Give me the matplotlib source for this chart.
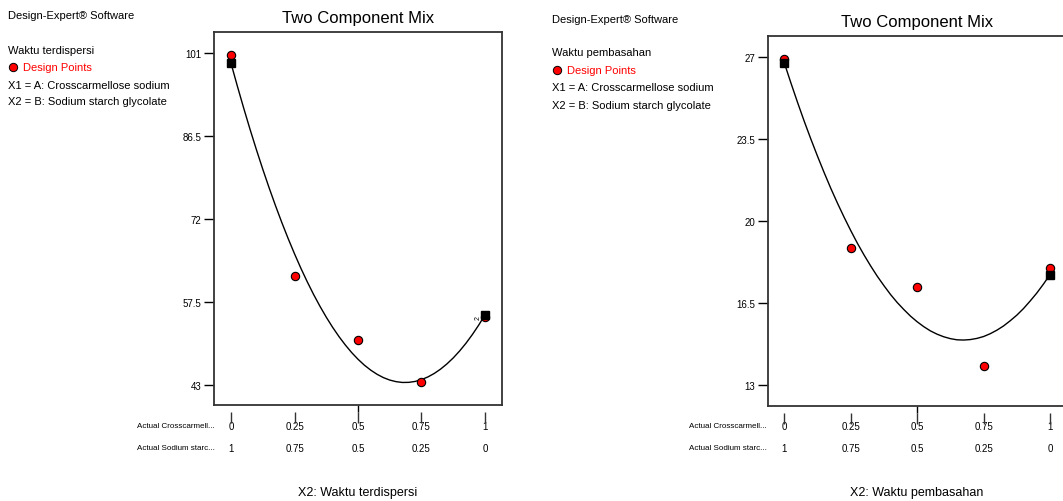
import matplotlib
matplotlib.use("Agg")
from matplotlib import pyplot as plt
from matplotlib.transforms import blended_transform_factory

plt.rcParams['font.family'] = ['Liberation Sans', 'DejaVu Sans']
NARROW = ['Liberation Sans Narrow', 'Liberation Sans', 'DejaVu Sans']

## data ##
x_ticks = [0, 0.25, 0.5, 0.75, 1]
row1_labels = ['0', '0.25', '0.5', '0.75', '1']
row2_labels = ['1', '0.75', '0.5', '0.25', '0']

design_x = [0, 0.25, 0.5, 0.75, 1]
disp_points = [100.6, 62.0, 50.8, 43.4, 54.9]
disp_pred_x = [0, 1]
disp_pred = [99.2, 55.2]
disp_yticks = [43, 57.5, 72, 86.5, 101]
disp_yticklabels = ['43', '57.5', '72', '86.5', '101']

wet_points = [26.9, 18.86, 17.18, 13.84, 18.02]
wet_pred_x = [0, 1]
wet_pred = [26.75, 17.72]
wet_yticks = [13, 16.5, 20, 23.5, 27]
wet_yticklabels = ['13', '16.5', '20', '23.5', '27']

# fitted curves, every 0.025
curve_x = [0, 0.025, 0.05, 0.075, 0.1, 0.125, 0.15, 0.175, 0.2, 0.225, 0.25, 0.275,
           0.3, 0.325, 0.35, 0.375, 0.4, 0.425, 0.45, 0.475, 0.5, 0.525, 0.55, 0.575,
           0.6, 0.625, 0.65, 0.675, 0.7, 0.725, 0.75, 0.775, 0.8, 0.825, 0.85, 0.875,
           0.9, 0.925, 0.95, 0.975, 1]
disp_curve = [99.2, 95.20, 91.35, 87.64, 84.09, 80.68, 77.43, 74.32, 71.36, 68.55, 65.89, 63.37,
              61.01, 58.79, 56.73, 54.81, 53.04, 51.42, 49.95, 48.62, 47.45, 46.42, 45.55, 44.82,
              44.24, 43.81, 43.53, 43.39, 43.41, 43.57, 43.89, 44.35, 44.96, 45.72, 46.63, 47.68,
              48.89, 50.24, 51.75, 53.40, 55.2]
wet_curve = [26.75, 25.89, 25.06, 24.26, 23.50, 22.77, 22.07, 21.40, 20.77, 20.17, 19.60, 19.06,
             18.56, 18.09, 17.65, 17.25, 16.87, 16.53, 16.23, 15.95, 15.71, 15.50, 15.32, 15.18,
             15.07, 14.99, 14.94, 14.93, 14.95, 15.00, 15.08, 15.20, 15.35, 15.53, 15.75, 15.99,
             16.27, 16.59, 16.93, 17.31, 17.72]

W, H = 1063, 502
fig = plt.figure(figsize=(W / 100, H / 100), dpi=100)


def fy(py):
    # pixel row from top -> figure fraction
    return 1 - py / H


def panel(rect, xlim, ylim, curve, points, pred_x, pred, yticks, yticklabels,
          response, text_x, text_rows, title_y, xlabel):
    ax = fig.add_axes(rect)
    ax.plot(curve_x, curve, color='black', lw=1.0, zorder=2)
    ax.plot(design_x, points, 'o', ms=6, mfc='red', mec='black', mew=0.8, zorder=3)
    ax.plot(pred_x, pred, 's', ms=6, color='black', zorder=4)
    ax.set_xlim(xlim)
    ax.set_ylim(ylim)
    for s in ax.spines.values():
        s.set_color('#333333')
        s.set_linewidth(1.3)
    ax.set_yticks(yticks)
    ax.set_yticklabels(yticklabels, family=NARROW, fontsize=7)
    ax.tick_params(axis='y', direction='out', length=7, width=1, pad=2)
    ax.xaxis.set_ticks_position('top')
    ax.set_xticks([0.5])
    ax.set_xticklabels([''])
    ax.tick_params(axis='x', direction='out', length=5, width=1)

    # lower tick axis, detached from the box
    ax2 = ax.twiny()
    ax2.set_xlim(xlim)
    ax2.xaxis.set_ticks_position('bottom')
    ax2.spines['bottom'].set_position(('outward', 5))
    for s in ax2.spines.values():
        s.set_visible(False)
    ax2.set_xticks(x_ticks)
    ax2.set_xticklabels([''] * len(x_ticks))
    ax2.tick_params(axis='x', direction='out', length=8, width=1, color='#333333')

    tr = blended_transform_factory(ax.transData, fig.transFigure)
    for x, a, b in zip(x_ticks, row1_labels, row2_labels):
        ax.text(x, fy(427), a, transform=tr, ha='center', va='center', fontsize=7, family=NARROW)
        ax.text(x, fy(449), b, transform=tr, ha='center', va='center', fontsize=7, family=NARROW)
    ax.text(-0.065, fy(427), 'Actual Crosscarmell...', transform=tr, ha='right', va='center',
            fontsize=5.8, family=NARROW)
    ax.text(-0.065, fy(449), 'Actual Sodium starc...', transform=tr, ha='right', va='center',
            fontsize=5.8, family=NARROW)

    ax.text(0.5, fy(title_y), 'Two Component Mix', transform=tr, ha='center', va='center',
            fontsize=12)
    ax.text(0.5, fy(493), xlabel, transform=tr, ha='center', va='center', fontsize=9,
            family=NARROW)

    # info block
    ys = text_rows
    fig.text(text_x / W, fy(ys[0]), 'Design-Expert® Software', ha='left', va='center', fontsize=8)
    fig.text(text_x / W, fy(ys[1]), response, ha='left', va='center', fontsize=8)
    fig.text((text_x + 15) / W, fy(ys[2]), 'Design Points', ha='left', va='center', fontsize=8,
             color='red')
    fig.lines.append(plt.Line2D([(text_x + 5) / W], [fy(ys[2])], marker='o', ms=6, mfc='red',
                                mec='black', mew=0.7, transform=fig.transFigure, figure=fig))
    fig.text(text_x / W, fy(ys[3]), 'X1 = A: Crosscarmellose sodium', ha='left', va='center',
             fontsize=8)
    fig.text(text_x / W, fy(ys[4]), 'X2 = B: Sodium starch glycolate', ha='left', va='center',
             fontsize=8)
    return ax


left = panel([214 / W, 1 - 406 / H, 288 / W, 373 / H], (-0.067, 1.067), (39.45, 104.67),
             disp_curve, disp_points, disp_pred_x, disp_pred, disp_yticks, disp_yticklabels,
             'Waktu terdispersi', 8, [16, 51, 68, 86, 102], 18, 'X2: Waktu terdispersi')
left.text(0.985, 54.9, '2', rotation=90, ha='right', va='center', fontsize=5)

right = panel([767.7 / W, 1 - 406.7 / H, 298.9 / W, 370 / H], (-0.0625, 1.0625), (12.13, 27.91),
              wet_curve, wet_points, wet_pred_x, wet_pred, wet_yticks, wet_yticklabels,
              'Waktu pembasahan', 552, [20, 53, 71, 88, 106], 22, 'X2: Waktu pembasahan')

fig.savefig('out.png', dpi=100)
